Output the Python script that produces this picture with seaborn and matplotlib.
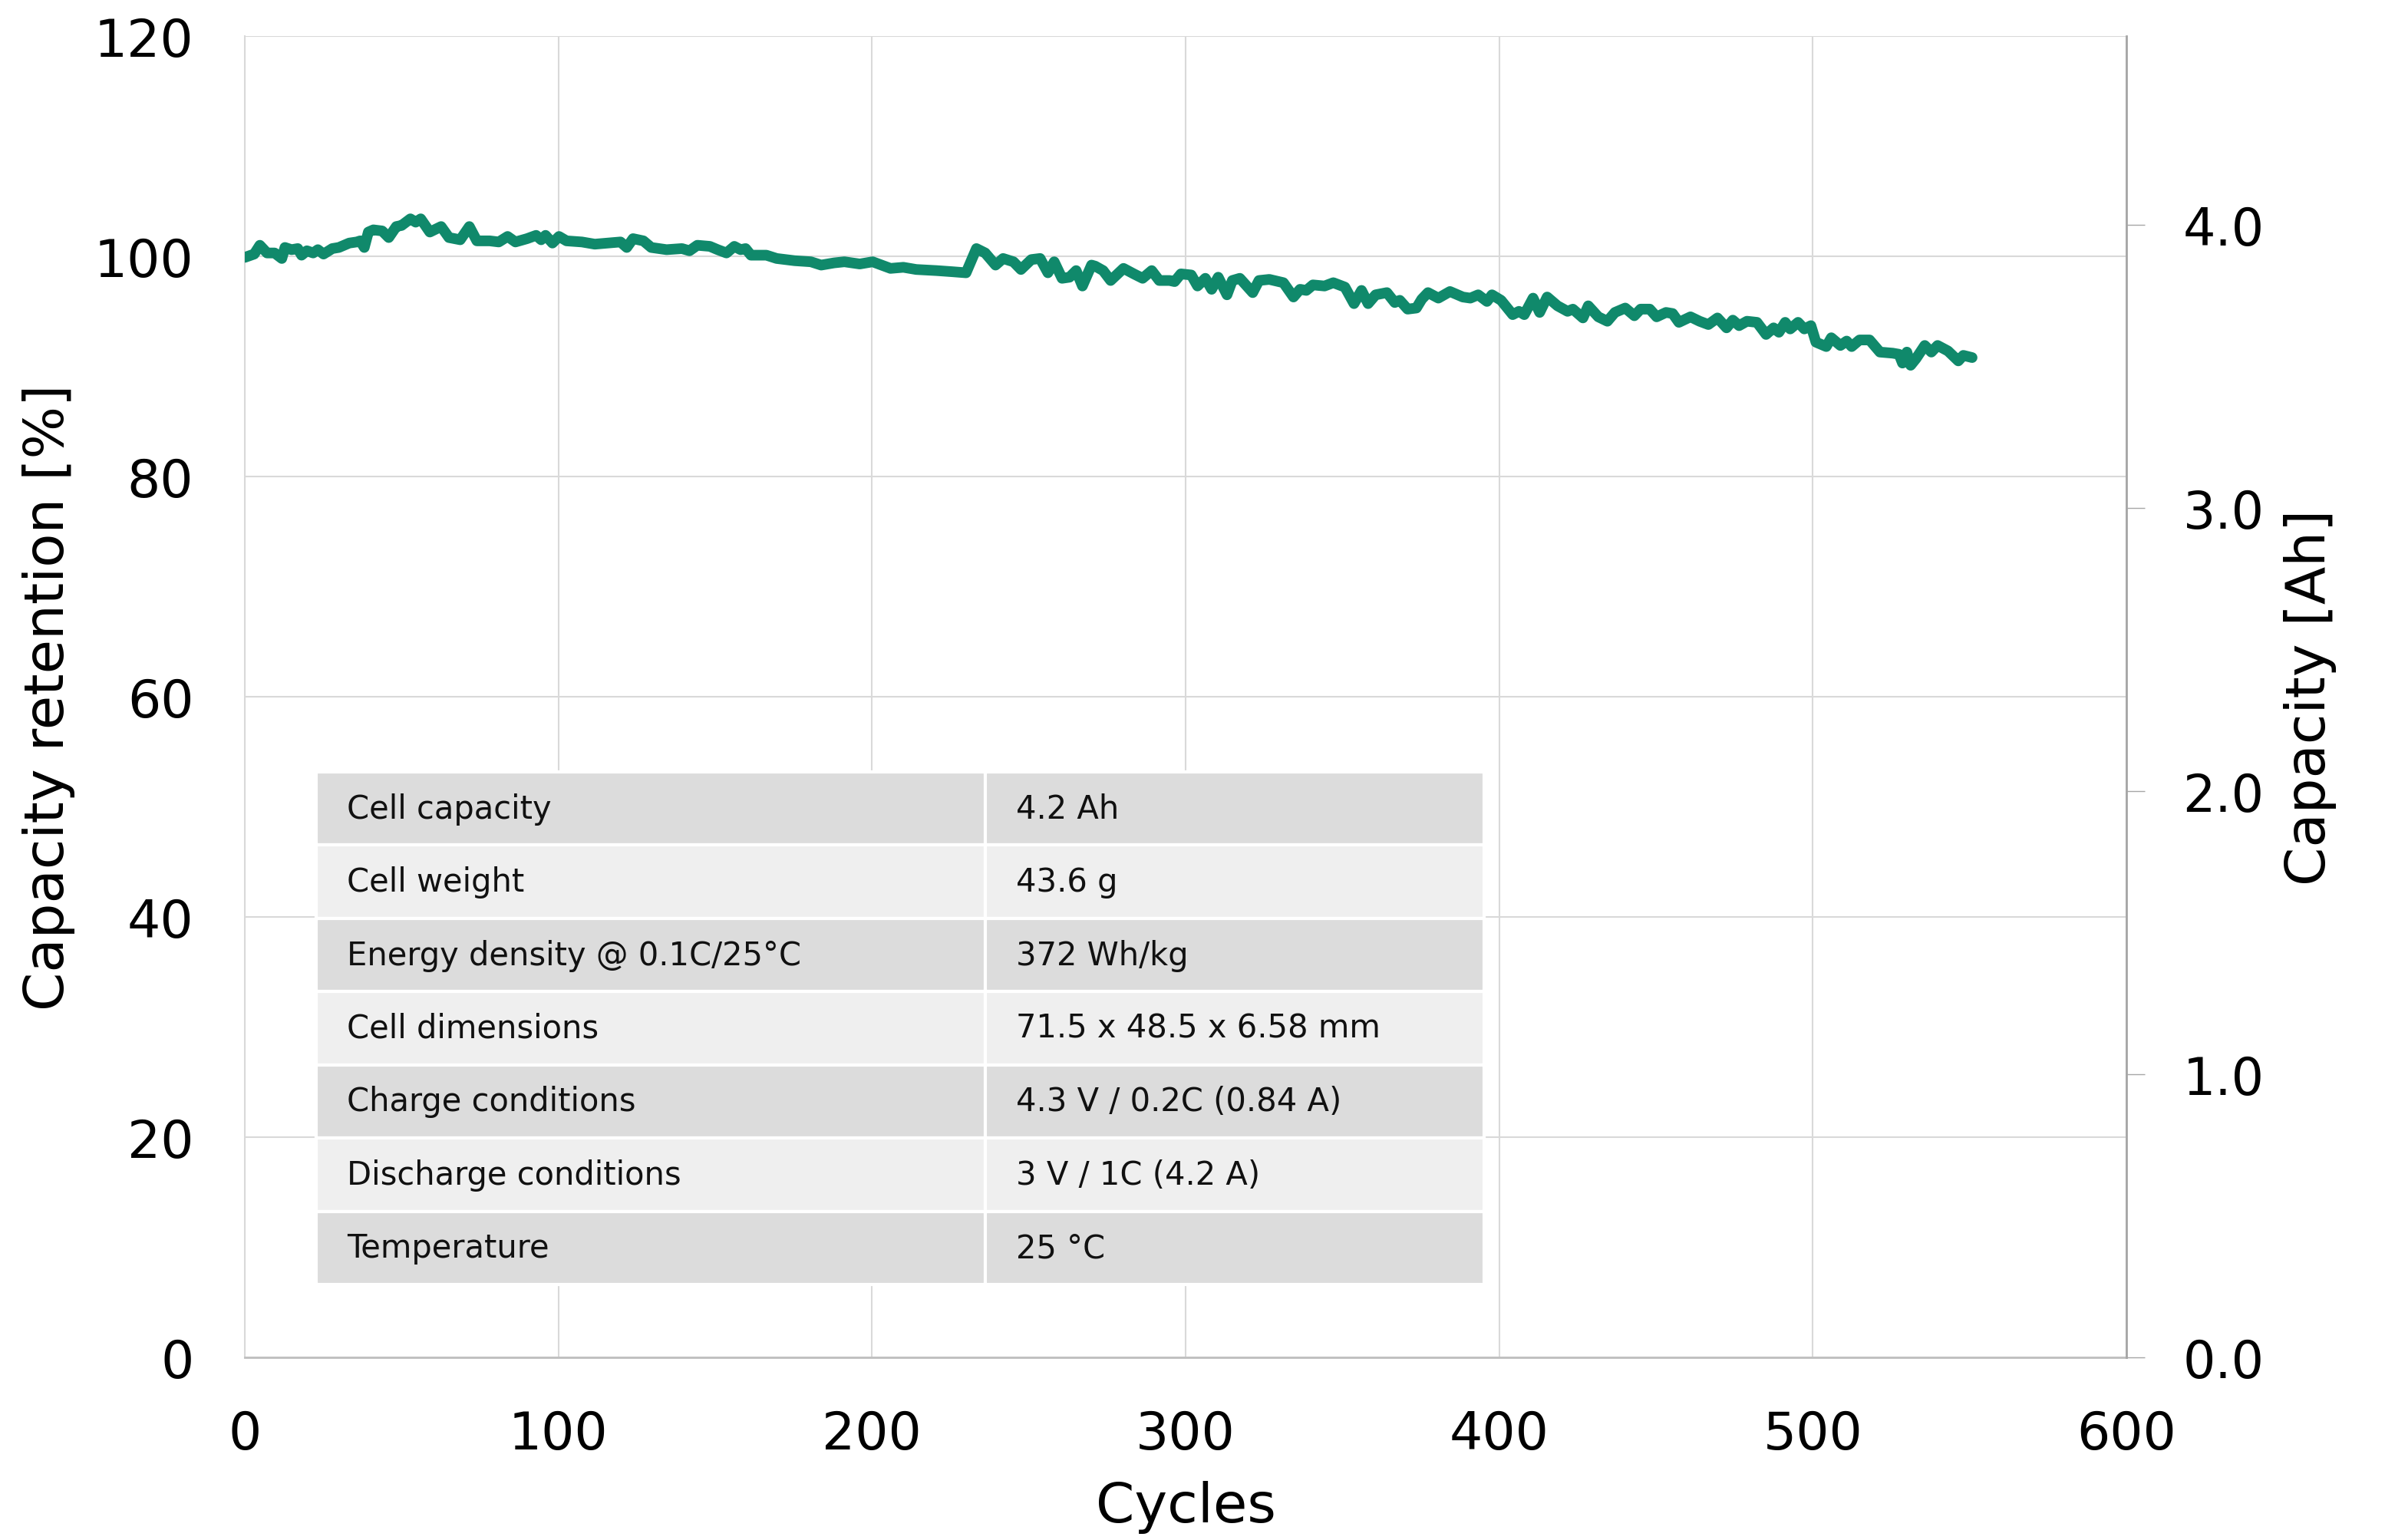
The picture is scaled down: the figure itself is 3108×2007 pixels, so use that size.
import numpy as np
import pandas as pd
import matplotlib
matplotlib.use("Agg")
import matplotlib.pyplot as plt
import seaborn as sns

# ---------------- data ----------------
cycles = [0, 1, 3, 4.8, 7.1, 9.5, 11.8, 12.8, 14.9, 16.9, 18.1, 19.8, 21.8, 23.3, 25.1, 27.9, 30, 33.3, 35.7,
          36.8, 38.1, 39.4, 41, 43.8, 45.9, 48.3, 50, 52.8, 54.5, 56.1, 59, 62.6, 65.1, 68.7, 71.6, 74, 78.1,
          81, 83.8, 86.3, 90, 92.9, 94.5, 95.9, 98.1, 100.2, 102.6, 107.5, 111.6, 115.7, 119.8, 121.8, 123.8,
          127.1, 129.6, 134.5, 139.4, 141.8, 144.3, 148.3, 150.8, 153.6, 156.1, 158.1, 159.7, 161.4, 166.3,
          169.6, 175.3, 180.5, 183.8, 187.9, 191.2, 196.1, 200.2, 205.9, 210, 214.1, 220.6, 225.5, 230, 233.3,
          236.1, 239.4, 241.8, 245.1, 247.5, 250.8, 253.6, 256.1, 258.1, 260.6, 263, 265.1, 267.1, 270, 271.2,
          273.7, 276.1, 280.2, 283.5, 286.3, 289.2, 291.6, 294.9, 296.5, 298.5, 301.8, 303.8, 306.3, 308.3,
          310.4, 313.2, 314.9, 317.3, 321.4, 323.4, 326.7, 331.2, 334.4, 336.5, 338.5, 340.6, 344.3, 347.1,
          350.8, 353.7, 356.1, 358.2, 360.6, 364.2, 366.7, 368.3, 370.8, 373.6, 375.3, 377.3, 380.6, 384.3,
          388.4, 390.8, 393.3, 396.1, 397.7, 400.6, 404.3, 406.3, 408, 410.8, 412.9, 415.3, 418.6, 421.8,
          423.5, 426.7, 428.4, 431.6, 434.5, 436.9, 440.2, 443.1, 445.1, 448, 450.2, 453.2, 455.3, 457.3,
          461, 463.9, 466.7, 469.6, 472.5, 474.5, 476.5, 479, 482.2, 485.1, 487.5, 489.2, 491.2, 492.8,
          495.3, 497.3, 499.4, 501, 504.3, 505.9, 508.8, 510.8, 512.4, 514.9, 518.1, 521.4, 525.5, 527.5,
          528.6, 530, 531.2, 532.9, 535.7, 537.8, 539.8, 543.1, 546.4, 548, 550.8]
retention = [99.9, 100.0, 100.2, 101.0, 100.3, 100.3, 99.8, 100.8, 100.6, 100.7, 100.1, 100.5, 100.3, 100.6,
             100.2, 100.7, 100.8, 101.2, 101.3, 101.4, 100.8, 102.2, 102.4, 102.3, 101.7, 102.7, 102.8, 103.4,
             103.1, 103.4, 102.2, 102.7, 101.7, 101.5, 102.7, 101.4, 101.4, 101.3, 101.8, 101.3, 101.6, 101.9,
             101.5, 101.9, 101.2, 101.8, 101.4, 101.3, 101.1, 101.2, 101.3, 100.8, 101.6, 101.4, 100.8, 100.6,
             100.7, 100.5, 101.0, 100.9, 100.6, 100.3, 100.9, 100.6, 100.7, 100.1, 100.1, 99.8, 99.6, 99.5,
             99.2, 99.4, 99.5, 99.3, 99.5, 98.9, 99.0, 98.8, 98.7, 98.6, 98.5, 100.7, 100.3, 99.2, 99.8, 99.5,
             98.8, 99.7, 99.8, 98.5, 99.5, 98.0, 98.1, 98.7, 97.3, 99.2, 99.1, 98.7, 97.8, 98.9, 98.4, 98.0,
             98.7, 97.8, 97.8, 97.7, 98.4, 98.3, 97.3, 98.0, 97.0, 98.1, 96.5, 97.8, 98.0, 96.7, 97.8, 97.9,
             97.6, 96.3, 97.0, 96.9, 97.4, 97.3, 97.6, 97.2, 95.7, 96.9, 95.7, 96.5, 96.7, 95.8, 96.0, 95.2,
             95.3, 96.1, 96.7, 96.2, 96.8, 96.3, 96.2, 96.5, 95.9, 96.5, 96.0, 94.7, 95.0, 94.7, 96.2, 94.9,
             96.3, 95.5, 95.0, 95.2, 94.4, 95.5, 94.5, 94.1, 94.9, 95.3, 94.6, 95.2, 95.2, 94.5, 94.9, 94.8,
             94.0, 94.5, 94.1, 93.8, 94.4, 93.5, 94.2, 93.7, 94.1, 94.0, 92.9, 93.5, 93.1, 94.0, 93.4, 94.0,
             93.4, 93.7, 92.2, 91.8, 92.6, 91.9, 92.3, 91.8, 92.4, 92.4, 91.3, 91.2, 91.1, 90.3, 91.3, 90.1,
             90.7, 91.9, 91.3, 91.9, 91.4, 90.5, 91.0, 90.8]

table_labels = ["Cell capacity", "Cell weight", "Energy density @ 0.1C/25°C", "Cell dimensions",
                "Charge conditions", "Discharge conditions", "Temperature"]
table_values = ["4.2 Ah", "43.6 g", "372 Wh/kg", "71.5 x 48.5 x 6.58 mm",
                "4.3 V / 0.2C (0.84 A)", "3 V / 1C (4.2 A)", "25 °C"]

left_ticks = [0, 20, 40, 60, 80, 100, 120]
right_ticks = [0.0, 1.0, 2.0, 3.0, 4.0]
x_ticks = [0, 100, 200, 300, 400, 500, 600]

# ---------------- style ----------------
sns.set_theme(style="whitegrid")
plt.rcParams['font.family'] = ['DejaVu Sans']
plt.rcParams['text.color'] = 'black'
plt.rcParams['axes.labelcolor'] = 'black'

LINE = "#10896B"
GRID = "#d9d9d9"

fig = plt.figure(figsize=(31.08, 20.08), dpi=100)
ax = fig.add_axes([0.10264, 0.11853, 0.78893, 0.85757])

df = pd.DataFrame({"Cycles": cycles, "Retention": retention})
sns.lineplot(data=df, x="Cycles", y="Retention", ax=ax, color=LINE,
             estimator=None, sort=False, zorder=5)
for ln in ax.lines:
    ln.set_linewidth(10)
    ln.set_solid_capstyle("round")
    ln.set_solid_joinstyle("round")

ax.set_xlim(0, 600)
ax.set_ylim(0, 120)
ax.set_xticks(x_ticks)
ax.set_yticks(left_ticks)
ax.grid(True, color=GRID, linewidth=1.5)
ax.set_axisbelow(True)
ax.tick_params(axis="both", length=0, labelsize=49, colors="black")
ax.tick_params(axis="y", pad=48)
ax.tick_params(axis="x", pad=48)
ax.set_xlabel("Cycles", fontsize=52, labelpad=20, color="black")
ax.set_ylabel("Capacity retention [%]", fontsize=52, labelpad=18, color="black")

ax.spines["top"].set_visible(False)
ax.spines["left"].set_color(GRID)
ax.spines["left"].set_linewidth(1.5)
ax.spines["bottom"].set_color("#bfbfbf")
ax.spines["bottom"].set_linewidth(2)
ax.spines["right"].set_visible(False)

ax2 = ax.twinx()
ax2.set_ylim(0, 4.666)
ax2.set_yticks(right_ticks)
ax2.set_yticklabels([f"{t:.1f}" for t in right_ticks])
ax2.grid(False)
ax2.tick_params(axis="y", length=17, width=1, color="#a6a6a6", direction="out", pad=36,
                labelsize=48, labelcolor="black")
ax2.set_ylabel("Capacity [Ah]", fontsize=52, labelpad=18, color="black")
for s in ["top", "left", "bottom"]:
    ax2.spines[s].set_visible(False)
ax2.spines["right"].set_color("#a6a6a6")
ax2.spines["right"].set_linewidth(2)

# ---------------- table ----------------
cell_text = [[a, b] for a, b in zip(table_labels, table_values)]
tbl = ax.table(cellText=cell_text, colWidths=[0.573, 0.427],
               bbox=[0.0379, 0.0552, 0.6207, 0.3879], cellLoc="left", zorder=6)
tbl.auto_set_font_size(False)
tbl.set_fontsize(30)
for (r, c), cell in tbl.get_celld().items():
    cell.set_facecolor("#dcdcdc" if r % 2 == 0 else "#efefef")
    cell.set_edgecolor("white")
    cell.set_linewidth(3)
    cell.PAD = 0.046 if c == 0 else 0.0615
    cell.get_text().set_color("#111111")
    cell.get_text().set_fontsize(30)

fig.savefig("out.png", dpi=100, facecolor="white")
